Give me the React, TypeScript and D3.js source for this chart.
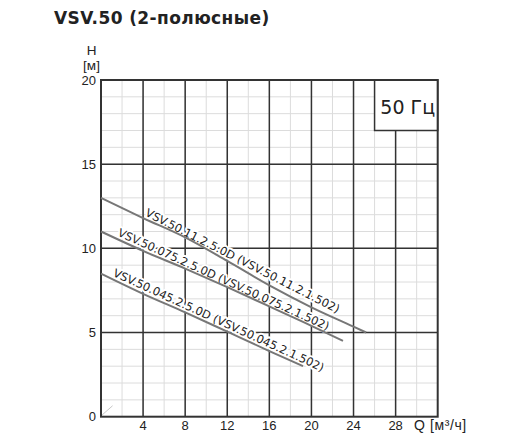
import { curveMonotoneX, line, range, scaleLinear } from "d3";

type Pt = [number, number];

const title = "VSV.50 (2-полюсные)";
const freqLabel = "50 Гц";
const qTicks = [4, 8, 12, 16, 20, 24, 28];
const hTicks = [0, 5, 10, 15, 20];
const qUnit = "Q [м³/ч]";

const curve11: Pt[] = [[0, 13], [4, 11.8], [8, 10.65], [12, 9.25], [16, 7.8], [20, 6.5], [24, 5.35], [25.2, 5.0]];
const curve075: Pt[] = [[0, 11], [4, 9.85], [8, 8.8], [12, 7.7], [16, 6.55], [20, 5.4], [23, 4.5]];
const curve045: Pt[] = [[0, 8.5], [4, 7.3], [8, 6.2], [12, 5.05], [16, 3.9], [19.2, 3.0]];

const curveNames = [
  "VSV.50.11.2.5.0D (VSV.50.11.2.1.502)",
  "VSV.50.075.2.5.0D (VSV.50.075.2.1.502)",
  "VSV.50.045.2.5.0D (VSV.50.045.2.1.502)",
];
// flow where each label begins
const labelStartQ = [4.0, 1.4, 0.95];

export default function App() {
  const width = 520;
  const height = 447;
  const margin = { top: 80, right: 82.3, bottom: 30.3, left: 101 };

  const x = scaleLinear().domain([0, 32]).range([margin.left, width - margin.right]);
  const y = scaleLinear().domain([0, 20]).range([height - margin.bottom, margin.top]);

  const path = line<Pt>()
    .curve(curveMonotoneX)
    .x((d) => x(d[0]))
    .y((d) => y(d[1]));

  const curves = [curve11, curve075, curve045];
  const dark = "#333";
  const textColor = "#222";
  const sans = "'Liberation Sans', Arial, sans-serif";
  const verd = "'DejaVu Sans', Verdana, sans-serif";

  const labels = curves.map((c, i) => {
    const hAt = scaleLinear()
      .domain(c.map((d) => d[0]))
      .range(c.map((d) => d[1]));
    const q0 = labelStartQ[i];
    const first = c[0];
    const last = c[c.length - 1];
    const angle = (Math.atan2(y(last[1]) - y(first[1]), x(last[0]) - x(first[0])) * 180) / Math.PI;
    return { lx: x(q0), ly: y(hAt(q0)), angle, text: curveNames[i] };
  });

  return (
    <svg
      width={width}
      height={height}
      viewBox={`0 0 ${width} ${height}`}
      style={{ position: "absolute", left: 0, top: 0, background: "#fff" }}
    >
      <text
        x={54}
        y={23.5}
        fontFamily={verd}
        fontWeight="bold"
        fontSize={17}
        letterSpacing={0.4}
        fill={textColor}
      >
        {title}
      </text>

      {/* minor grid */}
      {range(2, 32, 2).map((q) => (
        <line key={`mq-${q}`} x1={x(q)} x2={x(q)} y1={y(0)} y2={y(20)} stroke="#dcdcdc" strokeWidth={1} />
      ))}
      {range(1, 20, 1).map((h) => (
        <line key={`mh-${h}`} x1={x(0)} x2={x(32)} y1={y(h)} y2={y(h)} stroke="#dcdcdc" strokeWidth={1} />
      ))}

      {/* major grid */}
      {range(4, 32, 4).map((q) => (
        <line key={`Mq-${q}`} x1={x(q)} x2={x(q)} y1={y(0)} y2={y(20)} stroke={dark} strokeWidth={1.5} />
      ))}
      {range(5, 20, 5).map((h) => (
        <line key={`Mh-${h}`} x1={x(0)} x2={x(32)} y1={y(h)} y2={y(h)} stroke={dark} strokeWidth={1.5} />
      ))}

      <line x1={x(0.1)} y1={y(0.1)} x2={x(1.1)} y2={y(0.65)} stroke="#c8c8c8" strokeWidth={1} />

      {/* frequency box */}
      <rect
        x={x(26)}
        y={y(20)}
        width={x(32) - x(26)}
        height={y(17) - y(20)}
        fill="#fff"
        stroke={dark}
        strokeWidth={1.5}
      />
      <text x={x(26.55)} y={y(18)} fontFamily={verd} fontSize={19} fill={textColor}>
        {freqLabel}
      </text>

      <rect
        x={x(0)}
        y={y(20)}
        width={x(32) - x(0)}
        height={y(0) - y(20)}
        fill="none"
        stroke={dark}
        strokeWidth={2}
      />

      {labels.map((l, i) => (
        <text
          key={`l-${i}`}
          transform={`translate(${l.lx},${l.ly}) rotate(${l.angle})`}
          y={-3}
          fontFamily={verd}
          fontSize={11.4}
          fill={textColor}
          stroke="#fff"
          strokeWidth={4}
          strokeLinejoin="round"
          paintOrder="stroke"
        >
          {l.text}
        </text>
      ))}

      {curves.map((c, i) => (
        <path key={`c-${i}`} d={path(c) ?? ""} fill="none" stroke="#777" strokeWidth={2} />
      ))}

      {hTicks.map((h) => (
        <text
          key={`ht-${h}`}
          x={x(0) - 5}
          y={y(h) + 4.5}
          textAnchor="end"
          fontFamily={sans}
          fontSize={13}
          fill={textColor}
        >
          {h}
        </text>
      ))}
      {qTicks.map((q) => (
        <text
          key={`qt-${q}`}
          x={x(q)}
          y={430}
          textAnchor="middle"
          fontFamily={sans}
          fontSize={13}
          fill={textColor}
        >
          {q}
        </text>
      ))}
      <text x={414} y={430} fontFamily={sans} fontSize={14} letterSpacing={0.6} fill={textColor}>
        {qUnit}
      </text>
      <text x={91.5} y={55} textAnchor="middle" fontFamily={sans} fontSize={13.5} fill={textColor}>
        H
      </text>
      <text x={91.5} y={69.5} textAnchor="middle" fontFamily={sans} fontSize={13.5} fill={textColor}>
        [м]
      </text>
    </svg>
  );
}
